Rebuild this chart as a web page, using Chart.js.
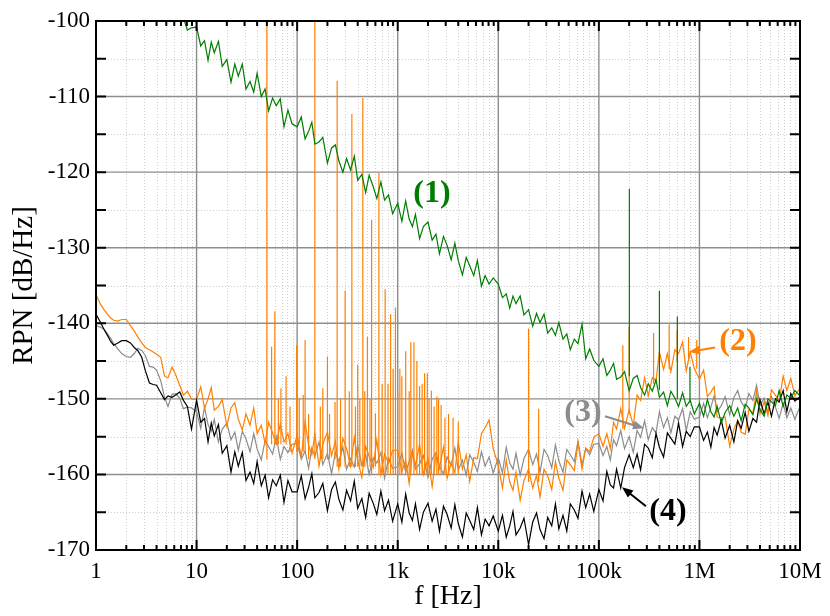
<!DOCTYPE html>
<html>
<head>
<meta charset="utf-8">
<script src="https://cdn.jsdelivr.net/npm/chart.js@4.4.0/dist/chart.umd.min.js"></script>
<style>
  html, body { margin: 0; padding: 0; background: #fff; }
  #wrap { width: 830px; height: 616px; position: relative; }
</style>
</head>
<body>
<div id="wrap"><canvas id="rpnChart"></canvas></div>
<script>
// frequency grid [Hz], shared by all four traces
const freqs = [
  1, 1.1, 1.2, 1.3, 1.4, 1.5, 1.65, 1.8, 2, 2.2, 2.4, 2.6, 2.85, 3.1, 3.4, 3.7, 4, 4.4, 4.8, 5.2, 5.7, 6.2, 6.8, 7.4, 8.1, 8.9,
  10, 11, 12, 13, 14, 15, 16.5, 18, 20, 22, 24, 26, 28.5, 31, 34, 37, 40, 44, 48, 52, 57, 62, 68, 74, 81, 89,
  100, 110, 120, 130, 140, 150, 165, 180, 200, 220, 240, 260, 285, 310, 340, 370, 400, 440, 480, 520, 570, 620, 680, 740, 810, 890,
  1000, 1100, 1200, 1300, 1400, 1500, 1650, 1800, 2000, 2200, 2400, 2600, 2850, 3100, 3400, 3700, 4000, 4400, 4800, 5200, 5700, 6200, 6800, 7400, 8100, 8900,
  10000, 11000, 12000, 13000, 14000, 15000, 16500, 18000, 20000, 22000, 24000, 26000, 28500, 31000, 34000, 37000, 40000, 44000, 48000, 52000, 57000, 62000, 68000, 74000, 81000, 89000,
  100000, 110000, 120000, 130000, 140000, 150000, 165000, 180000, 200000, 220000, 240000, 260000, 285000, 310000, 340000, 370000, 400000, 440000, 480000, 520000, 570000, 620000, 680000, 740000, 810000, 890000,
  1000000, 1100000, 1200000, 1300000, 1400000, 1500000, 1650000, 1800000, 2000000, 2200000, 2400000, 2600000, 2850000, 3100000, 3400000, 3700000, 4000000, 4400000, 4800000, 5200000, 5700000, 6200000, 6800000, 7400000, 8100000, 8900000,
  10000000
];

// (1) green
const trace1 = [
  -89.5, -90.0, -90.5, -91.0, -91.5, -92.0, -92.5, -93.0, -93.5, -94.0, -94.5, -95.0, -95.3, -95.8, -96.2, -96.5, -97.0, -97.5, -97.8, -98.3, -98.8, -99.2, -99.6, -99.6, -101.2, -100.9,
  -100.8, -103.3, -102.6, -105.2, -102.8, -104.2, -102.7, -106.0, -105.1, -108.1, -105.7, -107.3, -105.7, -109.0, -108.0, -109.4, -106.9, -110.0, -109.0, -111.9, -110.2, -111.2, -110.3, -114.0, -111.8, -113.6,
  -114.0, -112.7, -115.6, -114.6, -113.4, -116.3, -116.0, -115.4, -118.8, -116.8, -116.4, -118.5, -120.0, -118.2, -119.7, -117.9, -121.1, -120.3, -122.7, -120.4, -121.9, -123.5, -121.3, -123.7, -123.0, -125.5,
  -124.1, -126.5, -123.8, -126.2, -127.2, -125.6, -128.8, -127.2, -126.6, -129.0, -128.2, -130.8, -128.5, -129.7, -131.6, -129.4, -131.7, -133.6, -131.3, -132.4, -133.7, -131.7, -135.1, -133.7, -134.8, -134.0,
  -134.8, -136.6, -136.1, -138.0, -136.4, -137.4, -136.4, -138.9, -138.2, -140.4, -138.7, -139.9, -138.8, -141.3, -140.6, -141.6, -139.9, -142.1, -141.4, -143.5, -142.1, -142.7, -140.1, -144.7, -143.4, -144.9,
  -145.7, -144.7, -146.9, -146.2, -145.3, -147.4, -147.1, -146.4, -148.9, -147.3, -146.9, -148.5, -149.5, -148.0, -149.0, -147.5, -149.8, -149.1, -150.9, -149.0, -149.9, -151.0, -149.2, -151.0, -150.2, -152.0,
  -150.6, -152.3, -150.1, -151.7, -152.4, -151.0, -153.2, -151.8, -150.9, -152.3, -151.2, -152.9, -150.7, -151.2, -152.1, -150.0, -151.4, -152.3, -150.0, -150.4, -150.9, -148.9, -151.0, -149.5, -149.9, -148.9,
  -149.6
];

// (2) orange
const trace2 = [
  -136.2, -137.4, -138.2, -138.8, -139.3, -139.6, -139.7, -139.5, -139.5, -140.3, -141.0, -141.8, -142.6, -143.2, -143.5, -143.8, -144.1, -144.5, -147.0, -147.2, -145.8, -146.8, -148.2, -149.5, -149.0, -150.0,
  -150.1, -148.4, -151.3, -150.0, -148.5, -151.5, -151.0, -150.1, -153.6, -151.2, -150.5, -152.7, -154.1, -152.0, -153.5, -151.2, -154.6, -153.5, -155.9, -153.1, -154.5, -156.0, -153.3, -155.7, -154.6, -157.2,
  -154.8, -157.7, -153.0, -156.2, -157.4, -154.6, -158.9, -156.0, -154.4, -157.5, -155.6, -159.3, -155.2, -156.6, -158.9, -155.1, -158.1, -160.4, -156.3, -157.6, -159.1, -155.4, -160.0, -157.3, -158.5, -156.8,
  -156.8, -159.6, -158.1, -161.2, -157.2, -158.8, -156.0, -160.0, -157.9, -161.6, -157.5, -159.2, -156.4, -160.5, -158.4, -159.8, -155.7, -159.3, -157.4, -160.9, -157.8, -157.9, -154.6, -153.8, -152.8, -156.6,
  -158.8, -161.8, -158.1, -161.0, -162.1, -159.7, -163.4, -160.8, -159.3, -161.8, -160.1, -163.0, -159.3, -160.2, -162.0, -158.3, -160.5, -162.1, -158.1, -158.7, -159.5, -155.8, -159.3, -156.5, -157.0, -155.1,
  -154.6, -156.3, -154.6, -156.6, -153.1, -154.0, -151.3, -153.9, -151.5, -153.5, -149.5, -150.2, -147.2, -149.6, -147.2, -147.6, -143.8, -146.1, -144.0, -146.4, -143.5, -144.0, -142.5, -146.3, -143.8, -146.0,
  -147.4, -146.2, -149.7, -149.1, -148.4, -152.4, -152.5, -152.4, -156.3, -154.0, -152.9, -154.4, -154.7, -151.4, -151.9, -149.0, -152.0, -150.4, -152.2, -148.8, -149.5, -150.3, -147.0, -148.9, -147.3, -149.6,
  -148.6
];

// (3) grey
const trace3 = [
  -140.3, -140.5, -140.8, -141.4, -142.0, -142.7, -143.4, -144.0, -144.4, -144.5, -144.0, -143.3, -143.6, -144.3, -145.7, -145.8, -146.2, -147.6, -149.8, -151.0, -149.4, -149.3, -149.9, -151.3, -151.1, -151.2,
  -151.7, -153.9, -151.1, -153.4, -154.3, -152.7, -155.7, -154.0, -153.2, -155.4, -154.4, -156.8, -154.3, -155.3, -157.0, -154.6, -156.6, -158.1, -155.5, -156.3, -157.3, -155.0, -158.0, -156.3, -157.1, -156.0,
  -155.9, -158.0, -156.9, -159.2, -156.5, -157.6, -155.7, -158.7, -157.2, -159.9, -157.1, -158.3, -156.4, -159.3, -157.9, -159.0, -156.1, -158.8, -157.4, -160.0, -157.8, -158.5, -157.1, -160.5, -157.9, -159.2,
  -159.0, -157.2, -159.7, -158.3, -156.8, -159.3, -158.6, -157.5, -160.4, -158.0, -157.1, -158.9, -159.9, -157.7, -158.8, -156.5, -159.4, -158.1, -160.1, -157.4, -158.4, -159.6, -157.0, -158.9, -157.7, -159.8,
  -157.8, -159.8, -156.4, -158.5, -159.3, -157.2, -160.1, -157.9, -156.7, -158.7, -157.3, -159.7, -156.7, -157.5, -159.1, -156.1, -158.2, -159.7, -156.7, -157.4, -158.3, -155.6, -158.7, -156.6, -157.4, -156.0,
  -155.9, -157.5, -156.3, -158.1, -155.4, -156.2, -154.2, -156.6, -155.0, -157.1, -154.2, -155.1, -152.9, -155.4, -153.8, -154.5, -151.7, -153.8, -152.5, -154.5, -152.3, -152.8, -151.3, -154.2, -151.7, -152.7,
  -152.4, -150.6, -152.5, -151.1, -149.6, -151.7, -150.9, -149.7, -152.1, -149.8, -148.9, -150.4, -151.2, -149.3, -150.2, -148.2, -150.9, -149.9, -151.8, -149.7, -151.1, -152.6, -150.6, -152.5, -151.2, -152.7,
  -151.0
];

// (4) black
const trace4 = [
  -138.8, -139.8, -140.8, -141.6, -142.4, -142.9, -142.6, -142.3, -142.3, -142.6, -143.2, -143.6, -144.5, -146.3, -147.9, -148.1, -148.2, -149.2, -150.1, -149.6, -149.8, -149.5, -149.1, -150.2, -151.0, -154.0,
  -150.2, -153.1, -152.6, -155.7, -153.2, -154.9, -153.4, -157.2, -156.2, -159.7, -157.0, -158.9, -157.1, -160.8, -159.7, -161.2, -158.3, -161.5, -160.1, -163.1, -160.7, -161.5, -160.1, -163.7, -160.8, -162.3,
  -162.3, -160.2, -163.2, -161.7, -159.9, -163.1, -162.4, -161.2, -164.8, -162.0, -161.0, -163.3, -164.7, -162.1, -163.5, -160.9, -164.5, -163.2, -165.7, -162.5, -163.8, -165.3, -162.2, -164.8, -163.4, -166.2,
  -163.9, -166.3, -162.6, -165.1, -166.1, -163.9, -167.3, -165.0, -163.8, -166.2, -164.6, -167.5, -164.2, -165.3, -167.1, -164.0, -166.5, -168.3, -165.1, -166.1, -167.3, -164.4, -168.0, -165.9, -166.8, -165.5,
  -167.5, -165.4, -168.3, -166.8, -164.9, -168.0, -167.1, -165.8, -169.3, -166.3, -165.1, -167.3, -168.5, -165.7, -166.8, -163.9, -167.2, -165.4, -167.5, -163.9, -164.7, -165.8, -162.2, -164.4, -162.6, -164.9,
  -162.0, -163.5, -159.6, -161.4, -161.8, -159.3, -161.8, -159.1, -157.4, -159.1, -157.3, -159.4, -156.0, -156.5, -157.8, -154.6, -156.4, -157.7, -154.5, -155.2, -156.0, -153.2, -156.3, -154.3, -155.0, -153.7,
  -153.7, -155.5, -154.4, -156.4, -153.8, -154.8, -152.8, -155.2, -153.5, -155.7, -152.9, -153.9, -151.8, -154.3, -152.6, -153.1, -150.1, -152.0, -150.4, -152.3, -150.0, -150.4, -148.9, -151.7, -149.3, -150.3,
  -149.7
];

// narrow lines: frequency, foot and top [dB/Hz]
const orangeSpikeFreqs = [50, 55.7, 60, 65, 69, 77.6, 85, 99, 105, 115, 120, 130, 150, 170, 180, 200, 210, 238, 250, 270, 300, 330, 350, 380, 400, 420, 450, 470, 500, 530, 550, 600, 650, 700, 750, 800, 850, 900, 950, 1000, 1050, 1100, 1200, 1300, 1350, 1450, 1550, 1650, 1750, 1850, 1970, 2050, 2160, 2300, 2450, 2550, 2700, 2950, 3200, 3550, 4000, 20000, 25200, 173000, 200000, 350000, 500000, 600000, 780000, 940000];
const orangeSpikeTops  = [-95, -143.1, -138.4, -150.0, -148.6, -147.0, -151.0, -142.9, -150.0, -149.5, -142.2, -152.0, -95, -151.0, -148.6, -144.4, -152.0, -150.4, -107.9, -150.0, -135.7, -149.0, -112.3, -151.0, -145.5, -150.0, -110.2, -149.0, -141.8, -150.0, -126.3, -151.9, -120.1, -148.0, -135.5, -148.0, -138.8, -146.0, -137.9, -149.0, -146.0, -147.0, -143.7, -149.0, -142.5, -142.5, -145.0, -148.3, -148.0, -146.6, -146.6, -150.0, -148.9, -151.0, -149.7, -150.0, -150.8, -152.5, -152.0, -152.5, -153.0, -140.7, -151.3, -142.9, -140.5, -141.3, -140.2, -140.9, -141.8, -142.2];
const orangeSpikeFeet  = [-158, -156, -156, -156, -156, -156, -157, -157, -157, -157, -157, -158, -158, -158, -158, -158, -158, -158, -159, -159, -159, -159, -159, -159, -159, -159, -159, -159, -159, -159, -160, -159, -160, -160, -160, -160, -160, -160, -160, -160, -160, -160, -160, -160, -160, -160, -160, -160, -160, -160, -160, -160, -160, -160, -160, -160, -160, -160, -160, -160, -160, -161, -161, -154, -152, -148, -146, -145, -145, -146];

const greenSpikeFreqs = [201000, 400000, 603000, 805000];
const greenSpikeTops  = [-122.2, -135.7, -139.1, -145.8];
const greenSpikeFeet  = [-147.0, -148.8, -150.0, -150.5];

const xTickVals = [1, 10, 100, 1000, 10000, 100000, 1000000, 10000000];
const xTickLabels = ['1', '10', '100', '1k', '10k', '100k', '1M', '10M'];

// curve labels and arrows, in data coordinates
const curveLabels = [
  { text: '(1)', f: 2190, v: -122.8, color: '#007d00' },
  { text: '(2)', f: 2420000, v: -142.4, color: '#ff8000' },
  { text: '(3)', f: 69500, v: -151.9, color: '#8c8c8c' },
  { text: '(4)', f: 487000, v: -164.9, color: '#000000' }
];
const curveArrows = [
  { f1: 1430000, v1: -143.2, f2: 788000, v2: -143.8, color: '#ff8000' },
  { f1: 115000, v1: -152.3, f2: 281000, v2: -153.9, color: '#8c8c8c' },
  { f1: 294000, v1: -164.2, f2: 170000, v2: -161.7, color: '#000000' }
];

const serif = '"Liberation Serif", "Times New Roman", serif';

function toPoints(ys) {
  return freqs.map((f, i) => ({ x: f, y: ys[i] }));
}

function toSpikes(fs, feet, tops) {
  const pts = [];
  fs.forEach((f, i) => {
    pts.push({ x: f, y: feet[i] });
    pts.push({ x: f, y: tops[i] });
    pts.push({ x: f, y: null });
  });
  return pts;
}

function lineSet(data, color, order) {
  return {
    data: data,
    borderColor: color,
    borderWidth: 1.2,
    pointRadius: 0,
    tension: 0,
    spanGaps: false,
    order: order
  };
}

const framePlugin = {
  id: 'frame',
  beforeDatasetsDraw(chart) {
    const { ctx, chartArea: a, scales: { x, y } } = chart;
    ctx.save();

    // minor grid, dotted
    ctx.strokeStyle = '#cfcfcf';
    ctx.lineWidth = 1;
    ctx.setLineDash([1, 2]);
    ctx.beginPath();
    for (let d = 1; d < 1e7; d *= 10) {
      for (let m = 2; m <= 9; m++) {
        const px = Math.round(x.getPixelForValue(m * d)) + 0.5;
        ctx.moveTo(px, a.top);
        ctx.lineTo(px, a.bottom);
      }
    }
    for (let v = -165; v <= -105; v += 10) {
      const py = Math.round(y.getPixelForValue(v)) + 0.5;
      ctx.moveTo(a.left, py);
      ctx.lineTo(a.right, py);
    }
    ctx.stroke();

    // major grid
    ctx.setLineDash([]);
    ctx.strokeStyle = '#8e8e8e';
    ctx.lineWidth = 1.4;
    ctx.beginPath();
    xTickVals.forEach(v => {
      const px = x.getPixelForValue(v);
      ctx.moveTo(px, a.top);
      ctx.lineTo(px, a.bottom);
    });
    for (let v = -160; v <= -110; v += 10) {
      const py = y.getPixelForValue(v);
      ctx.moveTo(a.left, py);
      ctx.lineTo(a.right, py);
    }
    ctx.stroke();
    ctx.restore();
  },
  afterDatasetsDraw(chart) {
    const { ctx, chartArea: a, scales: { x, y } } = chart;
    ctx.save();

    // frame
    ctx.strokeStyle = '#000';
    ctx.lineWidth = 2;
    ctx.strokeRect(a.left, a.top, a.right - a.left, a.bottom - a.top);

    // inward tick marks on all sides
    ctx.beginPath();
    for (let d = 1; d < 1e7; d *= 10) {
      for (let m = 1; m <= 9; m++) {
        const px = x.getPixelForValue(m * d);
        const len = m === 1 ? 10 : 5;
        ctx.moveTo(px, a.bottom);
        ctx.lineTo(px, a.bottom - len);
        ctx.moveTo(px, a.top);
        ctx.lineTo(px, a.top + len);
      }
    }
    for (let v = -170; v <= -100; v += 5) {
      const py = y.getPixelForValue(v);
      ctx.moveTo(a.left, py);
      ctx.lineTo(a.left + 10, py);
      ctx.moveTo(a.right, py);
      ctx.lineTo(a.right - 10, py);
    }
    ctx.stroke();

    // arrows
    curveArrows.forEach(ar => {
      const x1 = x.getPixelForValue(ar.f1), y1 = y.getPixelForValue(ar.v1);
      const x2 = x.getPixelForValue(ar.f2), y2 = y.getPixelForValue(ar.v2);
      const ang = Math.atan2(y2 - y1, x2 - x1);
      const head = 11, half = 4.5;
      ctx.strokeStyle = ar.color;
      ctx.fillStyle = ar.color;
      ctx.lineWidth = 2;
      ctx.beginPath();
      ctx.moveTo(x1, y1);
      ctx.lineTo(x2 - Math.cos(ang) * head * 0.8, y2 - Math.sin(ang) * head * 0.8);
      ctx.stroke();
      ctx.beginPath();
      ctx.moveTo(x2, y2);
      ctx.lineTo(x2 - Math.cos(ang) * head - Math.sin(ang) * half, y2 - Math.sin(ang) * head + Math.cos(ang) * half);
      ctx.lineTo(x2 - Math.cos(ang) * head + Math.sin(ang) * half, y2 - Math.sin(ang) * head - Math.cos(ang) * half);
      ctx.closePath();
      ctx.fill();
    });

    // curve labels
    ctx.font = 'bold 32px ' + serif;
    ctx.textAlign = 'center';
    ctx.textBaseline = 'middle';
    curveLabels.forEach(l => {
      ctx.fillStyle = l.color;
      ctx.fillText(l.text, x.getPixelForValue(l.f), y.getPixelForValue(l.v));
    });

    // axis titles
    ctx.fillStyle = '#000';
    ctx.font = '28px ' + serif;
    ctx.fillText('f [Hz]', (a.left + a.right) / 2, 597);
    ctx.translate(24, (a.top + a.bottom) / 2);
    ctx.rotate(-Math.PI / 2);
    ctx.font = '29px ' + serif;
    ctx.fillText('RPN [dB/Hz]', 0, 0);
    ctx.restore();
  }
};

const ctx = document.getElementById('rpnChart').getContext('2d');
new Chart(ctx, {
  type: 'line',
  data: {
    datasets: [
      lineSet(toSpikes(greenSpikeFreqs, greenSpikeFeet, greenSpikeTops), '#007d00', 1),
      lineSet(toPoints(trace1), '#007d00', 1),
      lineSet(toPoints(trace4), '#000000', 2),
      lineSet(toSpikes(orangeSpikeFreqs, orangeSpikeFeet, orangeSpikeTops), '#ff8000', 3),
      lineSet(toPoints(trace2), '#ff8000', 3),
      lineSet(toPoints(trace3), '#8c8c8c', 4)
    ]
  },
  options: {
    responsive: true,
    maintainAspectRatio: false,
    animation: false,
    devicePixelRatio: 1,
    layout: { padding: { top: 21, right: 30, bottom: 0, left: 0 } },
    plugins: {
      legend: { display: false },
      tooltip: { enabled: false }
    },
    scales: {
      x: {
        type: 'logarithmic',
        min: 1,
        max: 1e7,
        grid: { display: false, drawTicks: false },
        border: { display: false },
        afterBuildTicks: s => { s.ticks = xTickVals.map(v => ({ value: v })); },
        afterFit: s => { s.height = 66; },
        ticks: {
          autoSkip: false,
          maxRotation: 0,
          padding: 8,
          color: '#000',
          font: { family: serif, size: 23 },
          callback: v => xTickLabels[xTickVals.indexOf(v)] || ''
        }
      },
      y: {
        type: 'linear',
        min: -170,
        max: -100,
        grid: { display: false, drawTicks: false },
        border: { display: false },
        afterFit: s => { s.width = 96; },
        ticks: {
          stepSize: 10,
          padding: 6,
          color: '#000',
          font: { family: serif, size: 23 }
        }
      }
    }
  },
  plugins: [framePlugin]
});
</script>
</body>
</html>
